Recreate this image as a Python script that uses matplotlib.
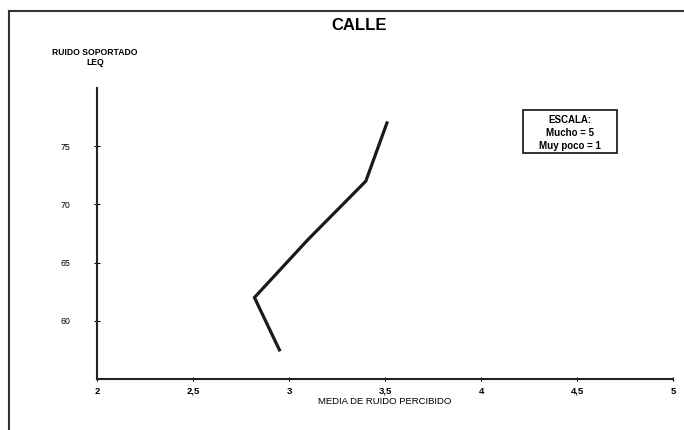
import matplotlib
matplotlib.use('Agg')
import matplotlib.pyplot as plt
from matplotlib.lines import Line2D
from matplotlib.patches import Rectangle

plt.rcParams['font.family'] = ['Liberation Sans', 'DejaVu Sans']

# datos ---------------------------------------------------------
media_percibida = [2.95, 2.82, 3.10, 3.40, 3.51]   # eje x
ruido_leq = [57.5, 62, 67, 72, 77]                 # eje y
xticks = [2, 2.5, 3, 3.5, 4, 4.5, 5]
xtick_labels = ['2', '2,5', '3', '3,5', '4', '4,5', '5']
yticks = [60, 65, 70, 75]

W, H = 684, 430
fig = plt.figure(figsize=(W / 100, H / 100), dpi=100)
ax = fig.add_axes([0.1418, 0.1186, 0.8422, 0.6767])

ax.plot(media_percibida, ruido_leq, color='#1a1a1a', lw=2.3, solid_joinstyle='miter')

ax.set_xlim(2, 5)
ax.set_ylim(55, 80)
ax.set_xticks(xticks)
ax.set_xticklabels(xtick_labels)
ax.set_yticks(yticks)
for s in ['top', 'right']:
    ax.spines[s].set_visible(False)
for s in ['left', 'bottom']:
    ax.spines[s].set_linewidth(1.5)
    ax.spines[s].set_color('#222222')
ax.tick_params(axis='y', direction='inout', length=4, width=0.8, labelsize=6.3, pad=17)
ax.tick_params(axis='x', direction='inout', length=3, width=0.8, labelsize=6.8, pad=4)
for lbl in ax.get_xticklabels():
    lbl.set_fontweight('bold')

ax.set_xlabel('MEDIA DE RUIDO PERCIBIDO', fontsize=6.8, labelpad=1)

fig.text(0.525, 0.958, 'CALLE', ha='center', va='top', fontsize=12, fontweight='bold')
fig.text(0.139, 0.888, 'RUIDO SOPORTADO\nLEQ', ha='center', va='top',
         fontsize=6.2, fontweight='bold', linespacing=1.1)

# recuadro de escala
fig.add_artist(Rectangle((523 / W, 1 - 153 / H), 94 / W, 43 / H, transform=fig.transFigure,
                         fc='white', ec='#222222', lw=1.3))
fig.text(570 / W, 1 - 133 / H, 'ESCALA:\nMucho = 5\nMuy poco = 1', ha='center', va='center',
         fontsize=7, fontweight='bold', linespacing=1.4)

# marco exterior
fig.add_artist(Line2D([9 / W, 1.0], [1 - 11 / H, 1 - 11 / H], transform=fig.transFigure,
                      color='#333333', lw=1.5))
fig.add_artist(Line2D([9 / W, 9 / W], [0.0, 1 - 11 / H], transform=fig.transFigure,
                      color='#333333', lw=1.5))

fig.savefig('out.png', dpi=100)
